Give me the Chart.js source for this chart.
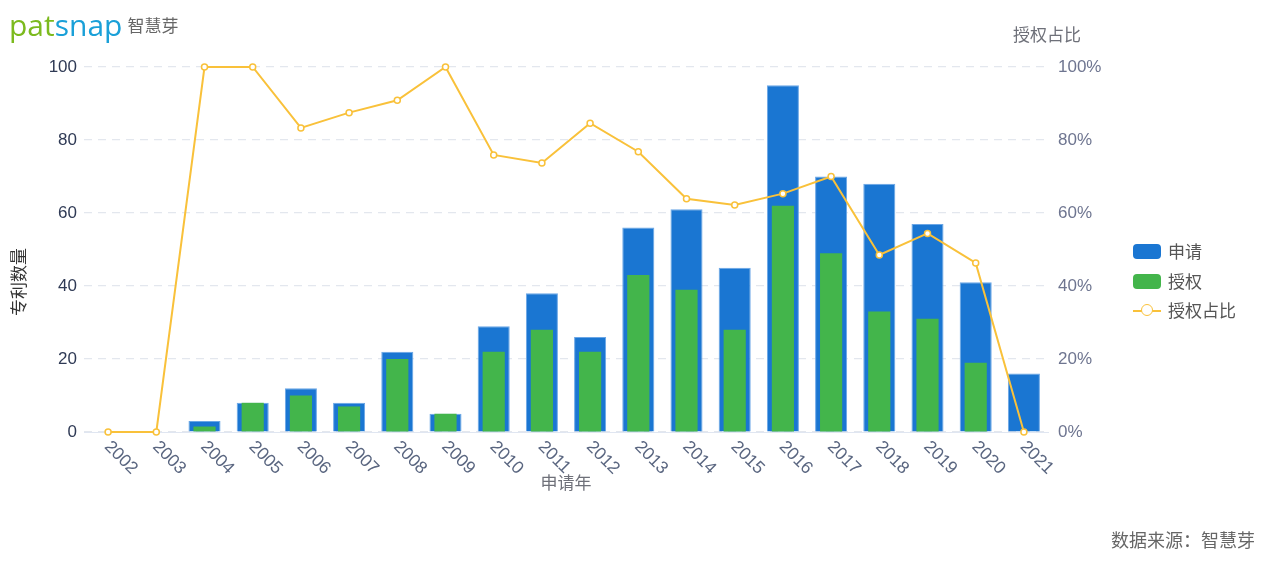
<!DOCTYPE html>
<html>
<head>
<meta charset="utf-8">
<script src="https://cdn.jsdelivr.net/npm/chart.js@4/dist/chart.umd.min.js"></script>
<style>
  html, body { margin: 0; padding: 0; background: #fff; }
  #wrap { position: relative; width: 1266px; height: 561px; overflow: hidden; font-family: "Liberation Sans", Arial, "Noto Sans CJK SC", sans-serif; }
  #c { position: absolute; left: 0; top: 0; }
  .abs { position: absolute; white-space: nowrap; }
  #logo { left: 9px; top: 4px; font-family: "Open Sans", "Noto Sans", sans-serif; font-weight: 400; font-size: 30px; letter-spacing: 0px; }
  #logo .g { color: #7cba1e; }
  #logo .b { color: #1aa0d8; }
  #logo .cn { font-family: "Noto Sans CJK SC", sans-serif; font-size: 17px; color: #666; margin-left: 5px; font-weight: 400; position: relative; top: -4px; }
  #src { right: 11px; top: 526px; font-size: 18px; color: #666; font-family: "Noto Sans CJK SC", sans-serif; }
  #legend { left: 1133px; top: 240px; font-family: "Noto Sans CJK SC", sans-serif; font-size: 17px; color: #555; }
  .li { position: relative; height: 29.5px; }
  .sw { position: absolute; left: 0; top: 4px; width: 28px; height: 15px; border-radius: 4px; }
  .lt { position: absolute; left: 35px; top: -2px; }
  .ln { position: absolute; left: 0; top: 11px; width: 28px; height: 2px; background: #f9c13a; }
  .cir { position: absolute; left: 8px; top: 5px; width: 10px; height: 10px; border: 1.5px solid #f9c13a; border-radius: 50%; background: #fff; }
</style>
</head>
<body>
<div id="wrap">
  <canvas id="c" width="1266" height="561"></canvas>
  <div id="logo" class="abs"><span class="g">pat</span><span class="b">snap</span><span class="cn">智慧芽</span></div>
  <div id="legend" class="abs">
    <div class="li"><div class="sw" style="background:#1a76d2"></div><div class="lt">申请</div></div>
    <div class="li"><div class="sw" style="background:#43b54b"></div><div class="lt">授权</div></div>
    <div class="li"><div class="ln"></div><div class="cir"></div><div class="lt">授权占比</div></div>
  </div>
  <div id="src" class="abs">数据来源：智慧芽</div>
</div>
<script>
const years = ['2002','2003','2004','2005','2006','2007','2008','2009','2010','2011','2012','2013','2014','2015','2016','2017','2018','2019','2020','2021'];
const applications = [0,0,3,8,12,8,22,5,29,38,26,56,61,45,95,70,68,57,41,16];
const grants = [0,0,1.5,8,10,7,20,5,22,28,22,43,39,28,62,49,33,31,19,0];
const grantRatio = [0,0,100,100,83.3,87.5,90.9,100,75.9,73.7,84.6,76.8,63.9,62.2,65.3,70,48.5,54.4,46.3,0];
const leftTicks = [0,20,40,60,80,100];
const rightTicks = [0,20,40,60,80,100];

const FONT = '"Liberation Sans", Arial, "Noto Sans CJK SC", sans-serif';
const CJK = '"Noto Sans CJK SC", sans-serif';

const customText = {
  id: 'customText',
  afterDraw(chart) {
    const ctx = chart.ctx;
    const xs = chart.scales.x;
    ctx.save();
    ctx.font = '17.5px ' + FONT;
    ctx.fillStyle = '#5a6680';
    ctx.textAlign = 'left';
    ctx.textBaseline = 'middle';
    xs.ticks.forEach((t, i) => {
      const x = xs.getPixelForTick(i);
      ctx.save();
      ctx.translate(x - 1, xs.top + 12);
      ctx.rotate(Math.PI / 4);
      ctx.fillText(xs.getLabelForValue(t.value), 0, 0);
      ctx.restore();
    });
    ctx.font = '17px ' + CJK;
    ctx.fillStyle = '#6e7079';
    ctx.textAlign = 'center';
    ctx.fillText('申请年', (chart.chartArea.left + chart.chartArea.right) / 2, 483);
    ctx.fillText('授权占比', 1047, 35);
    ctx.save();
    ctx.translate(19, 282);
    ctx.rotate(-Math.PI / 2);
    ctx.fillStyle = '#333';
    ctx.fillText('专利数量', 0, 0);
    ctx.restore();
    ctx.restore();
  }
};

new Chart(document.getElementById('c'), {
  data: {
    labels: years,
    datasets: [
      { type: 'line', label: '授权占比', data: grantRatio, yAxisID: 'y1', order: 0, clip: false,
        borderColor: '#f9c13a', borderWidth: 2, tension: 0,
        pointRadius: 3, pointBorderWidth: 1.5, pointBackgroundColor: '#fff', pointBorderColor: '#f9c13a' },
      { type: 'bar', label: '授权', data: grants, yAxisID: 'y', order: 1,
        backgroundColor: '#43b54b', barPercentage: 0.46, categoryPercentage: 1, grouped: false },
      { type: 'bar', label: '申请', data: applications, yAxisID: 'y', order: 2,
        backgroundColor: '#1a76d2', borderColor: '#6aa6e6', borderWidth: 1, borderSkipped: 'bottom',
        barPercentage: 0.665, categoryPercentage: 1, grouped: false }
    ]
  },
  options: {
    responsive: false,
    animation: false,
    layout: { padding: { top: 67, left: 0, right: 0, bottom: 0 } },
    plugins: { legend: { display: false }, tooltip: { enabled: false } },
    scales: {
      x: {
        type: 'category',
        offset: true,
        grid: { display: false, drawTicks: false },
        border: { display: true, color: '#e0e6f1', width: 1 },
        ticks: { display: false },
        afterFit: (s) => { s.height = 129; }
      },
      y: {
        position: 'left', min: 0, max: 100,
        afterBuildTicks: (s) => { s.ticks = leftTicks.map(v => ({ value: v })); },
        grid: { color: '#e3e7ee', drawTicks: false, lineWidth: 1.2 },
        border: { display: false, dash: [8, 6] },
        ticks: { padding: 7, color: '#2f3a55', font: { size: 17, family: FONT } },
        afterFit: (s) => { s.width = 84; }
      },
      y1: {
        position: 'right', min: 0, max: 100,
        afterBuildTicks: (s) => { s.ticks = rightTicks.map(v => ({ value: v })); },
        grid: { display: false, drawTicks: false },
        border: { display: false },
        ticks: { padding: 10, color: '#6e7590', font: { size: 17, family: FONT }, callback: (v) => v + '%' },
        afterFit: (s) => { s.width = 218; }
      }
    }
  },
  plugins: [customText]
});
</script>
</body>
</html>
